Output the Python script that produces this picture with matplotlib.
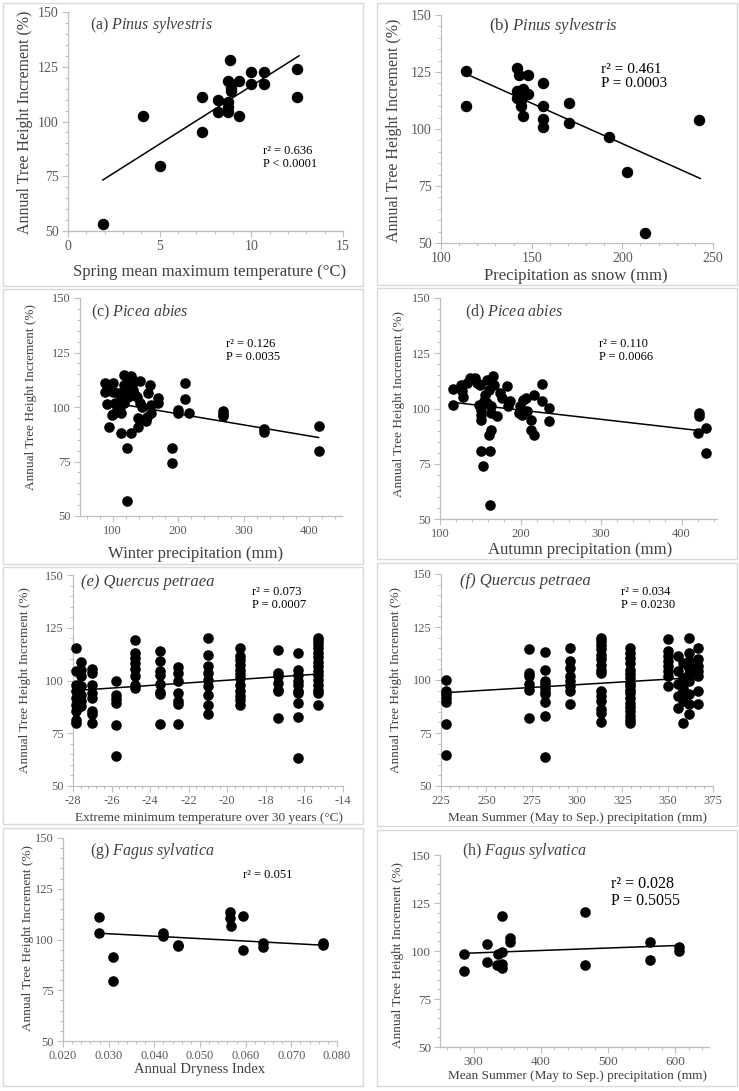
import matplotlib
matplotlib.use('Agg')
import matplotlib.pyplot as plt
from matplotlib.patches import Rectangle
from matplotlib.ticker import MultipleLocator, FormatStrFormatter

# ---- data ----
# (a) Pinus sylvestris, spring mean max temperature
a_x = [1.9, 4.1, 5.0, 7.3, 7.3, 8.2, 8.2, 8.85, 8.75, 8.75, 8.75, 8.75, 8.9, 8.9,
       9.3, 9.3, 10.0, 10.0, 10.7, 10.7, 12.5, 12.5]
a_y = [53.0, 102.3, 79.8, 111.4, 95.1, 109.9, 104.3, 127.9, 118.6, 108.8, 106.5, 104.3,
       115.2, 114.0, 118.6, 102.3, 122.4, 116.9, 122.4, 116.9, 124.1, 111.4]
a_trend_x = [1.9, 12.6]
a_trend_y = [73.3, 130.0]

# (b) Pinus sylvestris, precipitation as snow
b_x = [114, 114, 141.7, 143, 148.1, 141.7, 141.7, 145, 143.9, 143.9, 148.1, 145,
       156, 156, 156, 156, 170.7, 170.7, 192.7, 202.5, 212.5, 242.3]
b_y = [125.4, 110.0, 126.6, 123.6, 123.6, 116.8, 113.8, 117.4, 112.7, 110.0, 115.2, 105.8,
       120.0, 110.0, 104.6, 100.7, 111.2, 102.7, 96.6, 81.2, 54.4, 103.9]
b_trend_x = [114, 243]
b_trend_y = [124.1, 78.3]

# (c) Picea abies, winter precipitation
c_x = [88.7, 88.7, 91.8, 93.8, 95.9, 101.0, 103.5, 101.0, 98.4, 106.1, 108.6, 112.2,
       112.2, 113.7, 117.3, 117.3, 117.3, 121.3, 121.3, 121.3, 122.4, 123.9, 126.4, 128.0,
       128.0, 129.0, 131.5, 134.1, 136.6, 141.7, 141.7, 139.2, 139.2, 144.3, 150.4, 151.9,
       154.5, 157.0, 158.0, 158.0, 169.7, 169.7, 190.1, 190.1, 199.3, 199.3, 211.0, 211.0,
       217.1, 268.1, 268.1, 268.1, 330.3, 330.3, 414.3, 414.3, 101.0, 131.5, 111.1]
c_y = [110.9, 107.1, 101.4, 91.0, 107.8, 110.9, 101.7, 96.8, 96.3, 100.2, 106.3, 97.1,
       88.2, 104.8, 114.6, 110.1, 101.7, 113.2, 107.8, 81.0, 56.7, 104.8, 110.9, 114.3,
       88.2, 110.1, 107.8, 105.5, 104.8, 111.7, 101.7, 94.8, 91.0, 100.2, 93.7, 95.6,
       106.3, 110.1, 100.9, 97.1, 104.0, 101.7, 81.0, 74.1, 98.6, 97.1, 111.2, 103.5,
       97.1, 98.3, 96.8, 95.9, 89.7, 88.7, 91.3, 79.8, 107.1, 112.4, 100.2]
c_trend_x = [88.7, 414.3]
c_trend_y = [102.5, 86.0]

# (d) Picea abies, autumn precipitation
d_x = [115.8, 115.8, 125.8, 127.1, 128.3, 137.5, 143.8, 145.8, 150.0, 147.9, 151.3, 151.3,
       151.3, 151.3, 153.3, 156.3, 158.3, 160.4, 161.7, 161.7, 160.4, 163.3, 163.3, 163.3,
       165.8, 166.7, 170.8, 175.0, 177.1, 183.3, 184.2, 186.7, 197.9, 199.2, 203.3, 206.3,
       202.1, 208.3, 212.5, 213.3, 216.7, 216.7, 227.1, 227.1, 235.4, 235.4, 422.1, 422.1,
       420.8, 430.4, 430.4, 133.3, 154.2, 158.3]
d_y = [109.0, 101.7, 110.8, 107.8, 105.2, 113.8, 113.8, 111.5, 110.8, 101.7, 99.5, 97.2,
       94.9, 80.6, 74.1, 106.3, 102.5, 108.5, 80.6, 56.5, 88.2, 90.4, 101.0, 98.0,
       114.6, 110.8, 96.5, 107.0, 104.8, 110.0, 101.0, 103.2, 98.0, 101.0, 104.0, 104.8,
       97.2, 98.7, 94.9, 90.4, 106.3, 87.9, 111.2, 103.2, 100.2, 94.2, 98.0, 96.5,
       88.9, 91.2, 79.9, 111.5, 103.2, 113.0]
d_trend_x = [115.8, 422.1]
d_trend_y = [102.8, 90.0]

# (e) Quercus petraea, extreme minimum temperature (columns of sites)
e_cols = [-27.85, -27.6, -27.0, -25.75, -24.8, -23.5, -22.55, -21.0, -19.35, -17.35, -16.35, -15.3]
e_vals = [
    [115.4, 104.3, 98.0, 94.9, 91.7, 88.6, 85.4, 81.5, 79.9],
    [109.0, 105.0, 102.0, 97.2, 93.3, 90.2, 87.8],
    [105.4, 103.5, 98.0, 94.1, 91.7, 85.4, 83.9, 79.9],
    [99.9, 93.3, 91.3, 89.1, 79.1, 64.2],
    [119.3, 113.0, 110.6, 108.3, 105.4, 102.0, 98.0, 96.5],
    [114.1, 109.4, 104.6, 102.8, 98.3, 94.6, 93.6, 79.6],
    [106.2, 103.5, 99.6, 94.1, 90.2, 88.9, 79.6],
    [120.0, 112.2, 106.7, 103.5, 100.4, 97.2, 93.3, 88.6, 83.9],
    [115.4, 111.4, 109.8, 107.5, 105.1, 103.1, 101.2, 98.0, 94.9, 92.5, 90.9, 88.6],
    [114.6, 103.5, 102.0, 98.8, 95.7, 94.9, 82.3],
    [113.0, 105.1, 102.8, 99.6, 98.0, 94.9, 94.1, 89.4, 82.6, 63.4],
    [120.0, 118.5, 117.2, 115.4, 113.0, 111.0, 109.0, 106.7, 104.3, 102.8, 100.4, 98.0, 95.7, 94.1, 88.6],
]
e_trend_x = [-27.8, -15.2]
e_trend_y = [95.3, 103.1]

# (f) Quercus petraea, mean summer precipitation
f_cols = [227.8, 273.6, 282.3, 296.4, 313.0, 329.0, 350.0, 355.5, 358.5, 361.5, 367.0]
f_vals = [
    [100.2, 95.0, 93.2, 91.6, 89.7, 79.4, 64.6],
    [114.4, 103.4, 101.8, 97.9, 95.5, 82.2],
    [113.3, 104.6, 99.5, 97.9, 96.3, 94.4, 93.2, 89.7, 83.0, 63.8],
    [115.2, 108.9, 105.7, 101.8, 99.5, 97.1, 94.7, 88.8],
    [119.9, 118.3, 116.7, 114.4, 112.0, 109.7, 107.3, 104.9, 103.4, 94.7, 92.4, 90.0, 86.1, 84.5, 80.3],
    [115.2, 112.8, 110.4, 108.1, 104.9, 102.6, 101.0, 98.7, 97.1, 95.5, 94.0, 91.6, 89.3, 87.2, 85.3, 83.0, 80.9, 79.8],
    [119.4, 113.6, 111.2, 108.9, 106.5, 104.1, 102.1, 97.1],
    [111.2, 104.1, 97.9, 92.4, 86.9],
    [108.1, 101.0, 96.3, 94.7, 90.0, 79.8],
    [119.9, 112.8, 108.9, 105.7, 102.6, 99.5, 93.2, 88.5, 84.1],
    [115.2, 109.7, 106.5, 104.1, 101.8, 94.7, 88.8],
]
f_trend_x = [227.0, 362.0]
f_trend_y = [94.0, 101.0]

# (g) Fagus sylvatica, annual dryness index
g_x = [0.0278, 0.0278, 0.031, 0.031, 0.042, 0.042, 0.0451, 0.0451, 0.0565, 0.0565, 0.0567,
       0.0594, 0.0594, 0.0637, 0.0637, 0.0769, 0.0769]
g_y = [111.0, 103.3, 91.3, 79.8, 103.3, 101.6, 97.5, 96.7, 113.4, 110.7, 106.6,
       111.5, 94.6, 98.4, 96.2, 98.4, 97.2]
g_trend_x = [0.0278, 0.0769]
g_trend_y = [103.1, 97.2]

# (h) Fagus sylvatica, mean summer precipitation
h_x = [286, 286, 320, 320, 336.5, 335, 342, 342, 342, 342, 354, 354, 465, 465, 563, 563, 605, 605]
h_y = [98.4, 89.8, 103.8, 94.1, 98.4, 92.9, 118.0, 99.5, 93.3, 91.2, 106.7, 104.9,
       120.1, 92.9, 104.5, 95.3, 102.2, 100.2]
h_trend_x = [286, 605]
h_trend_y = [98.8, 102.9]

# ---- figure ----
W, H = 739, 1091
plt.rcParams['font.family'] = ['Liberation Serif', 'DejaVu Serif']
plt.rcParams['mathtext.fontset'] = 'custom'
plt.rcParams['mathtext.rm'] = 'Liberation Serif'
plt.rcParams['mathtext.it'] = 'Liberation Serif:italic'

fig = plt.figure(figsize=(W / 100, H / 100), dpi=100)

TXT = '#404040'
TICK = '#595959'
AXC = '#bfbfbf'
YLAB = 'Annual Tree Height Increment (%)'


def box(l, t, r, b):
    # light grey frame round each panel
    fig.add_artist(Rectangle((l / W, 1 - b / H), (r - l) / W, (b - t) / H,
                             transform=fig.transFigure, fill=False,
                             edgecolor='#d9d9d9', lw=1.0))


def panel(rect, x, y, tx, ty, xlim, xmaj, fmt, tick_fs, ms):
    l, t, r, b = rect
    ax = fig.add_axes([l / W, 1 - b / H, (r - l) / W, (b - t) / H])
    ax.scatter(x, y, s=ms, color='black', linewidths=0, zorder=3, clip_on=False)
    ax.plot(tx, ty, color='black', lw=1.1, zorder=2)
    ax.set_xlim(xlim)
    ax.set_ylim(50, 150)
    ax.xaxis.set_major_locator(MultipleLocator(xmaj))
    ax.xaxis.set_minor_locator(MultipleLocator(xmaj / 5))
    ax.xaxis.set_major_formatter(FormatStrFormatter(fmt))
    ax.yaxis.set_major_locator(MultipleLocator(25))
    ax.yaxis.set_minor_locator(MultipleLocator(5))
    for s in ['top', 'right']:
        ax.spines[s].set_visible(False)
    for s in ['left', 'bottom']:
        ax.spines[s].set_color(AXC)
        ax.spines[s].set_linewidth(0.9)
    ax.tick_params(which='major', direction='out', length=4, width=0.8, color=AXC,
                   labelsize=tick_fs, labelcolor=TICK, pad=2.5)
    ax.tick_params(which='minor', direction='out', length=2.5, width=0.7, color=AXC)
    ax.set_facecolor('none')
    return ax


def title(ax, fx, fy, letter, species, fs, all_italic=False):
    if all_italic:
        ax.text(fx, fy, '(' + letter + ') ' + species, transform=ax.transAxes, fontsize=fs,
                style='italic', color=TXT, va='center', ha='left')
    else:
        sp = species.replace(' ', r'\ ')
        ax.text(fx, fy, '(' + letter + ') $\\mathit{' + sp + '}$', transform=ax.transAxes,
                fontsize=fs, color=TXT, va='center', ha='left')


def stats(ax, fx, fy, s, fs):
    ax.text(fx, fy, s, transform=ax.transAxes, fontsize=fs, color='black',
            va='center', ha='left', linespacing=1.15)


def ylab(x, y, fs):
    fig.text(x / W, 1 - y / H, YLAB, rotation=90, fontsize=fs, color=TXT,
             ha='center', va='center')


def xlab(x, y, s, fs):
    fig.text(x / W, 1 - y / H, s, fontsize=fs, color=TXT, ha='center', va='center')


# panel frames
box(3, 3, 363, 286)
box(377, 3, 737, 285)
box(3, 289, 363, 564)
box(377, 288, 737, 559)
box(3, 567, 363, 824)
box(377, 563, 737, 826)
box(3, 828, 363, 1086)
box(377, 830, 737, 1086)

# (a)
ax = panel((68, 12, 343, 231), a_x, a_y, a_trend_x, a_trend_y, (0, 15), 5, '%d', 10, 68)
title(ax, 0.08, 0.94, 'a', 'Pinus sylvestris', 11.5)
stats(ax, 0.71, 0.337, 'r² = 0.636\nP < 0.0001', 9)
ylab(25, 122, 11.5)
xlab(210, 272, 'Spring mean maximum temperature (°C)', 12)

# (b)
ax = panel((441, 15, 713, 243), b_x, b_y, b_trend_x, b_trend_y, (100, 250), 50, '%d', 10, 68)
title(ax, 0.176, 0.952, 'b', 'Pinus sylvestris', 12)
stats(ax, 0.59, 0.73, 'r² = 0.461\nP = 0.0003', 11)
ylab(394, 130, 11.5)
xlab(576, 276, 'Precipitation as snow (mm)', 12)

# (c)
ax = panel((80, 298, 342, 516), c_x, c_y, c_trend_x, c_trend_y, (50, 450), 100, '%d', 9, 58)
title(ax, 0.042, 0.936, 'c', 'Picea abies', 11.5)
stats(ax, 0.557, 0.759, 'r² = 0.126\nP = 0.0035', 9)
ylab(31, 397, 9.5)
xlab(196, 554, 'Winter precipitation (mm)', 12)

# (d)
ax = panel((440, 298, 717, 519), d_x, d_y, d_trend_x, d_trend_y, (100, 444), 100, '%d', 9, 58)
title(ax, 0.091, 0.936, 'd', 'Picea abies', 11.5)
stats(ax, 0.573, 0.762, 'r² = 0.110\nP = 0.0066', 9)
ylab(399, 404, 9.5)
xlab(580, 550, 'Autumn precipitation (mm)', 12)

# (e)
e_x = [cx for cx, col in zip(e_cols, e_vals) for _ in col]
e_y = [v for col in e_vals for v in col]
ax = panel((73, 575, 343, 786), e_x, e_y, e_trend_x, e_trend_y, (-28, -14), 2, '%d', 9, 58)
title(ax, 0.03, 0.967, 'e', 'Quercus petraea', 12, all_italic=True)
stats(ax, 0.663, 0.889, 'r² = 0.073\nP = 0.0007', 9)
ylab(25, 680, 9.5)
xlab(209, 818, 'Extreme minimum temperature over 30 years (°C)', 9.5)

# (f)
f_x = [cx for cx, col in zip(f_cols, f_vals) for _ in col]
f_y = [v for col in f_vals for v in col]
ax = panel((441, 574, 713, 786), f_x, f_y, f_trend_x, f_trend_y, (225, 375), 25, '%d', 9, 58)
title(ax, 0.07, 0.967, 'f', 'Quercus petraea', 12, all_italic=True)
stats(ax, 0.662, 0.884, 'r² = 0.034\nP = 0.0230', 9)
ylab(396, 680, 9.5)
xlab(578, 818, 'Mean Summer (May to Sep.) precipitation (mm)', 9.5)

# (g)
ax = panel((63, 838, 337, 1041), g_x, g_y, g_trend_x, g_trend_y, (0.02, 0.08), 0.01, '%.3f', 9, 58)
title(ax, 0.0985, 0.936, 'g', 'Fagus sylvatica', 11.5)
stats(ax, 0.657, 0.818, 'r² = 0.051', 9)
ylab(28, 938, 9.5)
xlab(200, 1070, 'Annual Dryness Index', 10.5)

# (h)
ax = panel((440, 855, 709, 1047), h_x, h_y, h_trend_x, h_trend_y, (250, 650), 100, '%d', 9.5, 58)
title(ax, 0.082, 1.02, 'h', 'Fagus sylvatica', 11.5)
stats(ax, 0.636, 0.805, 'r² = 0.028\nP = 0.5055', 11.5)
ylab(398, 955, 9.5)
xlab(578, 1076, 'Mean Summer (May to Sep.) precipitation (mm)', 9.5)

fig.savefig('out.png', dpi=100)
